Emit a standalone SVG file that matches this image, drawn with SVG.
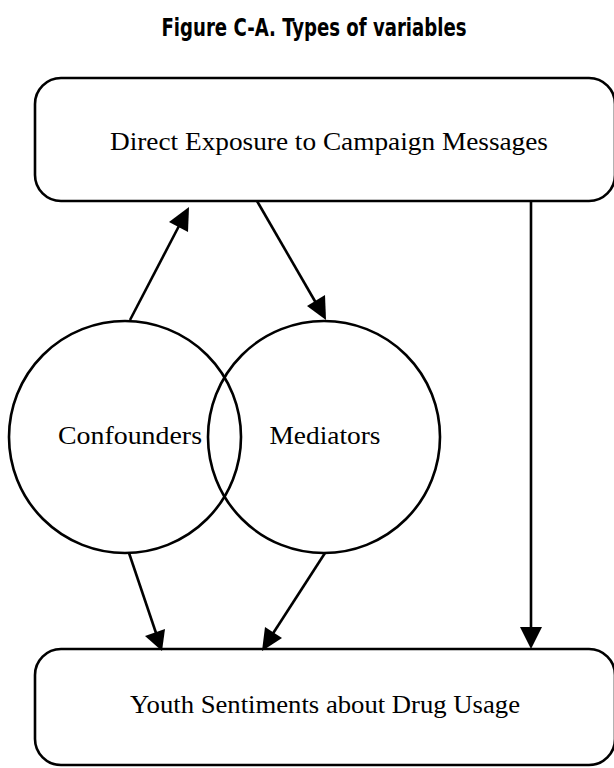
<svg xmlns="http://www.w3.org/2000/svg" width="614" height="768" viewBox="0 0 614 768">
<style>
.box{fill:#fff;stroke:#000;stroke-width:2.6}
.lbl{font-family:"Liberation Serif",serif;font-size:26px;fill:#000}
.title{font-family:"DejaVu Sans Condensed","Liberation Sans",sans-serif;font-weight:bold;font-size:24px;fill:#000}
.edge{stroke:#000;stroke-width:2.6;fill:none}
.head{fill:#000}
</style>
<rect width="614" height="768" fill="#fff"/>
<text class="title" x="314" y="36" text-anchor="middle" textLength="305" lengthAdjust="spacingAndGlyphs">Figure C-A. Types of variables</text>
<g id="node-exposure">
<rect class="box" x="35" y="78" width="580" height="123" rx="26"/>
<text class="lbl" x="329" y="150" text-anchor="middle" textLength="438" lengthAdjust="spacingAndGlyphs">Direct Exposure to Campaign Messages</text>
</g>
<g id="node-youth">
<rect class="box" x="35" y="649" width="580" height="116" rx="26"/>
<text class="lbl" x="325" y="713" text-anchor="middle" textLength="390" lengthAdjust="spacingAndGlyphs">Youth Sentiments about Drug Usage</text>
</g>
<g id="node-confounders">
<circle cx="125" cy="437" r="116" fill="none" stroke="#000" stroke-width="2.6"/>
<text class="lbl" x="130" y="444" text-anchor="middle" textLength="144" lengthAdjust="spacingAndGlyphs">Confounders</text>
</g>
<g id="node-mediators">
<circle cx="324" cy="437" r="116" fill="none" stroke="#000" stroke-width="2.6"/>
<text class="lbl" x="325" y="444" text-anchor="middle" textLength="111" lengthAdjust="spacingAndGlyphs">Mediators</text>
</g>
<g id="connectors">
<path class="edge" d="M130,320 L180,224"/>
<path class="head" d="M189,207 L188,232 L169,222 Z"/>
<path class="edge" d="M257,201 L316,303"/>
<path class="head" d="M326,320 L307,306 L325,295 Z"/>
<path class="edge" d="M129,553 L156,633"/>
<path class="head" d="M162,651 L145,636 L165,629 Z"/>
<path class="edge" d="M325,553 L272,635"/>
<path class="head" d="M262,651 L265,627 L282,638 Z"/>
<path class="edge" d="M531,201 L531,630"/>
<path class="head" d="M531,649 L520,627 L542,627 Z"/>
</g>
</svg>
